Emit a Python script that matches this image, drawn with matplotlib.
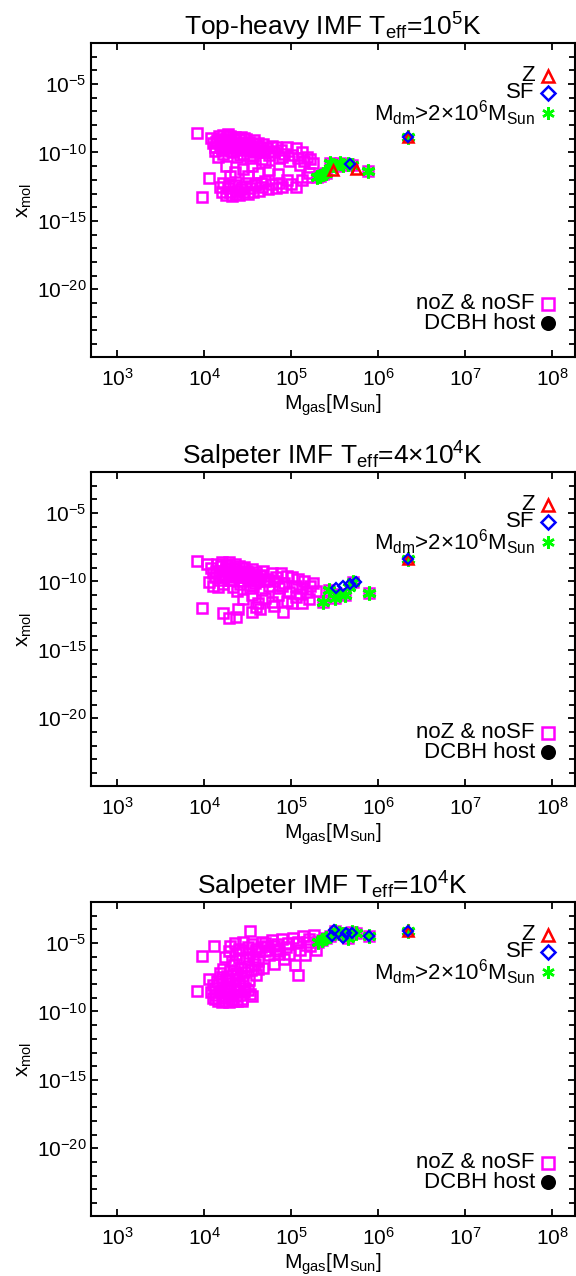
import numpy as np
import matplotlib
matplotlib.use("Agg")
import matplotlib.pyplot as plt
from matplotlib.ticker import LogLocator, NullFormatter

plt.rcParams["font.family"] = ["Liberation Sans", "DejaVu Sans"]
plt.rcParams["mathtext.fontset"] = "custom"
plt.rcParams["mathtext.rm"] = "Liberation Sans"
plt.rcParams["mathtext.it"] = "Liberation Sans:italic"
plt.rcParams["mathtext.bf"] = "Liberation Sans:bold"

# ---- data: log10(M_gas / M_sun), log10(x_mol) ----
titles = [r"Top-heavy IMF T$_{\rm eff}$=10$^5$K",
          r"Salpeter IMF T$_{\rm eff}$=4×10$^4$K",
          r"Salpeter IMF T$_{\rm eff}$=10$^4$K"]

# panel 1: noZ & noSF
p1_sq_m = [3.92, 4.05, 3.97,
           4.08, 4.10, 4.12, 4.12, 4.15, 4.17, 4.18, 4.20, 4.20, 4.22, 4.22, 4.25, 4.25,
           4.27, 4.28, 4.30, 4.30, 4.32, 4.33, 4.35, 4.35, 4.37, 4.38, 4.40, 4.40, 4.42,
           4.44, 4.45, 4.47, 4.48, 4.50, 4.52, 4.53, 4.55, 4.57, 4.58, 4.60, 4.62, 4.65,
           4.66, 4.68, 4.72, 4.75, 4.78, 4.80, 4.83, 4.86, 4.88, 4.92, 4.95, 4.98, 5.01,
           5.05, 5.08, 5.12, 5.15, 5.18, 5.22, 5.25, 5.10, 4.70,
           4.14, 4.19, 4.24, 4.29, 4.34, 4.39, 4.44, 4.49, 4.54, 4.59, 4.64, 4.69,
           4.16, 4.21, 4.26, 4.31, 4.36, 4.41, 4.46, 4.51, 4.56, 4.61, 4.74, 4.90,
           4.25, 4.35, 4.45, 4.55, 4.62, 4.75, 4.85, 4.50, 4.30,
           4.18, 4.20, 4.22, 4.25, 4.27, 4.30, 4.32, 4.35, 4.38, 4.40, 4.43, 4.46, 4.48,
           4.50, 4.53, 4.56, 4.60, 4.63, 4.67, 4.70, 4.73, 4.78, 4.82, 4.86, 4.90, 4.95,
           5.00, 5.05, 5.12, 5.18, 5.20, 4.28, 4.36, 4.42, 4.58, 4.65,
           5.30, 5.33, 5.36, 5.40, 5.45, 5.48, 5.52, 5.56, 5.60, 5.65, 5.70, 5.88]
p1_sq_x = [-8.58, -11.86, -13.25,
           -8.95, -9.3, -9.6, -9.9, -9.1, -8.8, -9.5, -9.2, -9.8, -8.7, -10.1, -9.0, -9.4,
           -8.65, -9.7, -9.1, -8.8, -9.5, -10.0, -8.9, -9.3, -9.8, -10.3, -9.0, -9.6, -8.9,
           -9.3, -10.1, -9.5, -9.0, -9.8, -9.2, -10.4, -9.5, -9.1, -10.0, -9.6, -9.3, -9.9,
           -10.5, -9.4, -9.7, -10.2, -9.5, -10.0, -9.6, -10.4, -9.8, -10.1, -9.6, -10.6, -10.2,
           -9.7, -10.4, -10.0, -10.6, -10.3, -10.5, -10.8, -10.9, -10.7,
           -9.2, -9.0, -9.6, -9.3, -9.1, -9.4, -9.7, -9.3, -9.8, -9.4, -9.6, -10.0,
           -10.3, -9.7, -8.8, -9.9, -9.6, -10.2, -8.95, -9.5, -10.2, -9.9, -9.9, -10.3,
           -11.0, -11.4, -11.2, -11.0, -11.5, -11.3, -11.6, -11.7, -11.7,
           -12.5, -12.9, -12.2, -13.1, -12.6, -12.9, -13.2, -12.4, -12.8, -13.1, -12.5, -12.9, -12.2,
           -13.0, -12.6, -12.9, -12.3, -12.8, -12.5, -12.1, -12.7, -12.3, -12.6, -12.2, -12.5, -12.0,
           -12.3, -12.5, -12.0, -11.8, -11.5, -12.3, -13.0, -12.7, -12.4, -12.2,
           -11.8, -11.75, -11.6, -11.5, -10.8, -10.9, -11.0, -10.8, -10.9, -10.85, -10.9, -11.35]
p1_dm_m = [5.30, 5.33, 5.36, 5.40, 5.45, 5.48, 5.52, 5.56, 5.60, 5.65, 5.70, 5.88, 6.34]
p1_dm_x = [-11.8, -11.75, -11.6, -11.5, -10.8, -10.9, -11.0, -10.8, -10.9, -10.85, -10.9, -11.35, -8.87]
p1_z_m = [5.48, 5.74, 6.34]
p1_z_x = [-11.3, -11.2, -8.87]
p1_sf_m = [5.68, 6.34]
p1_sf_x = [-10.85, -8.87]

# panel 2
p2_sq_m = [3.92, 3.97, 4.22, 4.28, 4.36, 4.39, 4.55, 4.64, 4.91, 5.01, 5.13, 4.03, 4.05, 4.10,
           4.08, 4.10, 4.12, 4.15, 4.17, 4.18, 4.20, 4.22, 4.22, 4.25, 4.25, 4.27, 4.28, 4.30,
           4.30, 4.32, 4.33, 4.35, 4.35, 4.37, 4.38, 4.40, 4.40, 4.42, 4.44, 4.45, 4.47, 4.48,
           4.50, 4.52, 4.53, 4.55, 4.57, 4.58, 4.60, 4.62, 4.65, 4.66, 4.68, 4.72, 4.75, 4.78,
           4.80, 4.83, 4.86, 4.88, 4.92, 4.95, 4.98, 5.01, 5.05, 5.08, 5.12, 5.15, 5.18, 5.22,
           5.25, 5.28,
           4.14, 4.19, 4.24, 4.29, 4.34, 4.39, 4.44, 4.49, 4.54, 4.59, 4.64, 4.69,
           4.16, 4.21, 4.26, 4.31, 4.36, 4.41, 4.46, 4.51, 4.56, 4.61, 4.74, 4.90,
           4.45, 4.55, 4.62, 4.70, 4.78, 4.85, 4.95, 5.05, 5.20, 4.60, 4.80, 5.10,
           5.37, 5.43, 5.56, 5.71, 5.89, 5.50, 5.62]
p2_sq_x = [-8.52, -11.95, -12.3, -12.7, -12.6, -12.0, -12.2, -12.0, -12.2, -11.6, -11.6, -8.75, -10.05, -10.3,
           -9.0, -9.4, -9.7, -8.7, -9.2, -9.9, -8.6, -9.5, -10.2, -8.8, -9.1, -9.6, -8.55, -9.0,
           -9.9, -9.3, -10.4, -8.7, -9.5, -9.1, -10.7, -8.9, -9.7, -9.3, -9.0, -10.0, -9.5, -9.2,
           -9.8, -9.4, -10.5, -9.1, -9.6, -10.1, -9.3, -9.8, -9.5, -10.6, -9.2, -9.8, -10.3, -9.4,
           -10.0, -9.7, -10.5, -9.4, -10.1, -9.6, -10.8, -9.7, -10.3, -9.8, -10.5, -10.0, -10.8, -10.3,
           -10.1, -10.7,
           -9.2, -8.9, -9.6, -9.3, -9.0, -9.4, -9.7, -9.3, -9.9, -9.5, -9.6, -10.0,
           -10.4, -9.7, -8.8, -9.9, -9.6, -10.2, -8.95, -9.6, -10.3, -10.0, -9.9, -10.3,
           -11.3, -11.0, -11.6, -11.2, -11.5, -11.0, -11.4, -11.1, -11.3, -11.9, -11.8, -10.9,
           -11.5, -10.6, -10.9, -10.05, -10.85, -11.2, -11.0]
p2_dm_m = [5.37, 5.43, 5.50, 5.56, 5.62, 5.66, 5.71, 5.89, 6.34]
p2_dm_x = [-11.5, -10.6, -11.2, -10.9, -11.0, -10.4, -10.05, -10.85, -8.37]
p2_z_m = [6.34]
p2_z_x = [-8.37]
p2_sf_m = [5.51, 5.60, 5.68, 5.74, 6.34]
p2_sf_x = [-10.5, -10.35, -10.2, -10.05, -8.37]

# panel 3
p3_sq_m = [4.53, 4.11, 3.97, 4.05, 3.92, 5.08,
           4.08, 4.10, 4.12, 4.14, 4.16, 4.18, 4.20, 4.22, 4.24, 4.26, 4.28, 4.30, 4.32, 4.34,
           4.36, 4.38, 4.40, 4.42, 4.44, 4.46, 4.10, 4.15, 4.20, 4.25, 4.30, 4.35, 4.40, 4.45,
           4.50, 4.55, 4.13, 4.23, 4.33, 4.43, 4.53, 4.17, 4.27, 4.37, 4.47,
           4.18, 4.22, 4.26, 4.30, 4.34, 4.38, 4.42, 4.46, 4.50, 4.54, 4.58, 4.62,
           4.20, 4.28, 4.36, 4.44, 4.52, 4.60,
           4.24, 4.28, 4.32, 4.36, 4.40, 4.44, 4.48, 4.52, 4.56, 4.60,
           4.30, 4.35, 4.40, 4.45, 4.50, 4.55, 4.60, 4.65, 4.70, 4.75, 4.80, 4.85,
           4.62, 4.68, 4.74, 4.80, 4.86, 4.92, 4.98, 5.04, 5.10, 5.16, 5.22, 5.28,
           4.66, 4.72, 4.78, 4.84, 4.90, 4.96, 5.02, 5.08, 5.14, 5.20, 5.26,
           4.70, 4.82, 4.94, 5.06, 5.18,
           5.31, 5.35, 5.40, 5.45, 5.50, 5.55, 5.60, 5.65, 5.70, 5.75, 5.90]
p3_sq_x = [-4.14, -5.24, -5.97, -7.6, -8.47, -7.3,
           -8.6, -9.0, -8.3, -8.8, -9.2, -8.5, -9.3, -8.9, -9.25, -8.4, -9.3, -8.7, -9.1, -8.3,
           -8.9, -9.2, -8.5, -8.8, -9.1, -8.6, -8.1, -7.8, -8.0, -7.7, -7.9, -7.6, -8.0, -7.8,
           -8.4, -8.9, -9.1, -9.0, -9.2, -9.25, -8.7, -8.6, -8.2, -8.5, -8.3,
           -7.2, -6.9, -7.4, -7.0, -6.6, -7.3, -6.8, -7.1, -6.7, -7.0, -6.5, -6.9,
           -7.5, -7.6, -7.2, -7.4, -7.7, -7.3,
           -6.0, -5.6, -6.3, -5.8, -6.1, -5.5, -6.2, -5.7, -6.0, -5.4,
           -5.2, -5.0, -5.4, -4.95, -5.3, -5.1, -5.6, -5.3, -5.0, -5.5, -5.2, -5.8,
           -6.3, -6.8, -5.9, -6.5, -5.6, -6.2, -5.8, -6.6, -5.5, -5.9, -5.2, -5.5,
           -4.9, -5.2, -4.8, -5.1, -4.7, -5.0, -4.6, -4.9, -4.5, -4.7, -4.4,
           -5.6, -5.4, -5.3, -5.0, -4.9,
           -4.9, -4.75, -4.6, -4.5, -4.1, -4.3, -4.35, -4.6, -4.2, -4.3, -4.5]
p3_dm_m = [5.31, 5.35, 5.40, 5.45, 5.50, 5.55, 5.60, 5.65, 5.70, 5.75, 5.90, 6.34]
p3_dm_x = [-4.9, -4.75, -4.6, -4.5, -4.1, -4.3, -4.35, -4.6, -4.2, -4.3, -4.5, -4.15]
p3_z_m = [6.34]
p3_z_x = [-4.15]
p3_sf_m = [5.49, 5.47, 5.60, 5.63, 5.70, 5.90, 6.34]
p3_sf_x = [-4.07, -4.5, -4.6, -4.3, -4.3, -4.45, -4.15]

panels = [
    (p1_sq_m, p1_sq_x, p1_dm_m, p1_dm_x, p1_z_m, p1_z_x, p1_sf_m, p1_sf_x),
    (p2_sq_m, p2_sq_x, p2_dm_m, p2_dm_x, p2_z_m, p2_z_x, p2_sf_m, p2_sf_x),
    (p3_sq_m, p3_sq_x, p3_dm_m, p3_dm_x, p3_z_m, p3_z_x, p3_sf_m, p3_sf_x),
]

legend_top = [("Z", "^", "#ff0000", 0.895),
              ("SF", "D", "#0000ff", 0.841),
              (r"M$_{\rm dm}$>2×10$^6$M$_{\rm Sun}$", (6, 2, 0), "#00ff00", 0.777)]
legend_bot = [("noZ & noSF", "s", "#ff00ff", 0.169),
              ("DCBH host", "o", "black", 0.108)]

fig = plt.figure(figsize=(5.76, 12.76), dpi=100)
tops = [43, 472, 902]
H = 314
for i, (sqm, sqx, dmm, dmx, zm, zx, sfm, sfx) in enumerate(panels):
    top = tops[i]
    ax = fig.add_axes([91 / 576, 1 - (top + H) / 1276, 484 / 576, H / 1276])
    p = lambda a: 10 ** np.array(a, dtype=float)
    ax.plot(p(sqm), p(sqx), "s", ls="none", mfc="none", mec="#ff00ff", ms=7.5, mew=1.8)
    ax.plot(p(dmm), p(dmx), marker=(6, 2, 0), ls="none", color="#00ff00", ms=10, mew=2.2)
    ax.plot(p(zm), p(zx), "^", ls="none", mfc="none", mec="#ff0000", ms=7.5, mew=1.8)
    ax.plot(p(sfm), p(sfx), "D", ls="none", mfc="none", mec="#0000ff", ms=5.5, mew=1.6)

    ax.set_xscale("log")
    ax.set_yscale("log")
    ax.set_xlim(5e2, 10 ** (2.699 + 484 / 87))
    ax.set_ylim(10 ** -24.95, 1e-2)
    ax.xaxis.set_major_locator(LogLocator(base=10, numticks=20))
    ax.xaxis.set_minor_locator(LogLocator(base=10, subs=[], numticks=20))
    ax.yaxis.set_major_locator(LogLocator(base=10 ** 5, numticks=20))
    ax.yaxis.set_minor_locator(LogLocator(base=10, subs=[1.0], numticks=40))
    ax.yaxis.set_minor_formatter(NullFormatter())
    ax.tick_params(which="both", direction="in", top=True, right=True, width=1.3)
    ax.tick_params(which="major", length=5, labelsize=15)
    ax.tick_params(which="minor", length=4)
    ax.tick_params(axis="x", which="major", pad=8)
    ax.tick_params(axis="y", which="major", pad=3)
    for s in ax.spines.values():
        s.set_linewidth(1.5)

    ax.set_title(titles[i], fontsize=19, pad=4)
    ax.set_xlabel(r"M$_{\rm gas}$[M$_{\rm Sun}$]", fontsize=15, labelpad=2)
    ax.set_ylabel(r"x$_{\rm mol}$", fontsize=15, labelpad=2)

    for label, mk, col, yy in legend_top + legend_bot:
        ax.text(0.917, yy, label, transform=ax.transAxes, ha="right", va="center", fontsize=16)
        filled = col == "black" or mk == (6, 2, 0)
        ax.plot([0.944], [yy], marker=mk, transform=ax.transAxes, ls="none",
                mfc=col if filled else "none", mec=col, color=col,
                ms=9 if mk != "D" else 7, mew=1.8, clip_on=False)

fig.savefig("out.png", dpi=100)
